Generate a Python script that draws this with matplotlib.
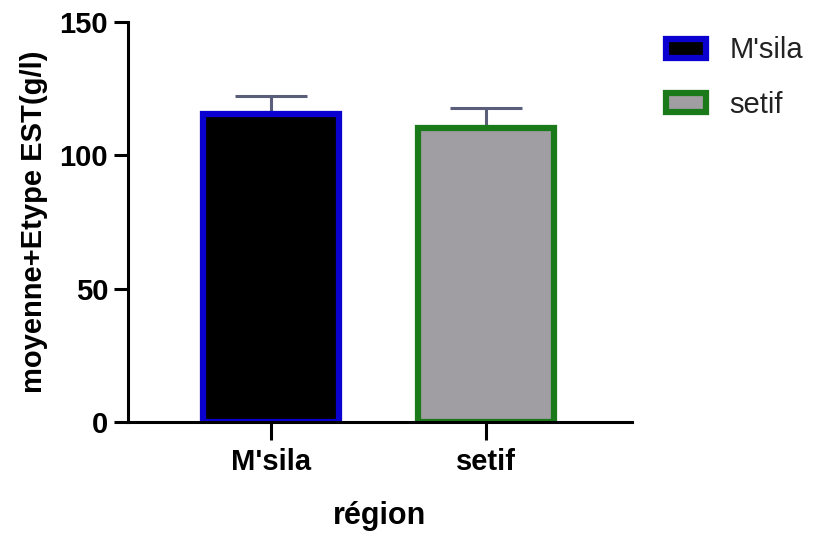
import matplotlib
matplotlib.use('Agg')
from matplotlib import pyplot as plt

regions = ["M'sila", "setif"]
means = [115.5, 110.3]
errs = [6.8, 7.5]
faces = ['black', '#a09ea3']
edges = ['#0a00d0', '#1a7a1a']

plt.rcParams['font.family'] = ['Liberation Sans', 'DejaVu Sans']

fig = plt.figure(figsize=(8.13, 5.40), dpi=100)
ax = fig.add_axes([0.157, 0.219, 0.62, 0.74])

x = range(len(regions))
for i in x:
    ax.bar(i, means[i], width=0.633, color=faces[i], edgecolor=edges[i],
           linewidth=4.5, label=regions[i], zorder=2)
    ax.errorbar(i, means[i], yerr=[[0], [errs[i]]], fmt='none',
                ecolor='#5a5e7a', elinewidth=2.2, capsize=26, capthick=2.2, zorder=1)

ax.set_xlim(-0.665, 1.679)
ax.set_ylim(0, 150)
ax.set_yticks([0, 50, 100, 150])
ax.set_xticks(list(x))
ax.set_xticklabels(regions, fontsize=21, fontweight='bold')
ax.tick_params(axis='y', labelsize=21, width=2.2, length=10, pad=4)
ax.tick_params(axis='x', width=2.2, length=13, pad=6)
for lab in ax.get_yticklabels():
    lab.set_fontweight('bold')
ax.spines['top'].set_visible(False)
ax.spines['right'].set_visible(False)
ax.spines['left'].set_linewidth(2.2)
ax.spines['bottom'].set_linewidth(2.2)

ax.set_ylabel('moyenne+Etype EST(g/l)', fontsize=21, fontweight='bold', labelpad=8)
ax.set_xlabel('région', fontsize=22, fontweight='bold', labelpad=18)

leg = ax.legend(loc='upper left', bbox_to_anchor=(1.015, 1.03), frameon=False,
                fontsize=21, handlelength=1.4, handleheight=0.62, handletextpad=0.8,
                labelspacing=0.9)
for t in leg.get_texts():
    t.set_color('#222222')

fig.savefig('out.png', dpi=100)
